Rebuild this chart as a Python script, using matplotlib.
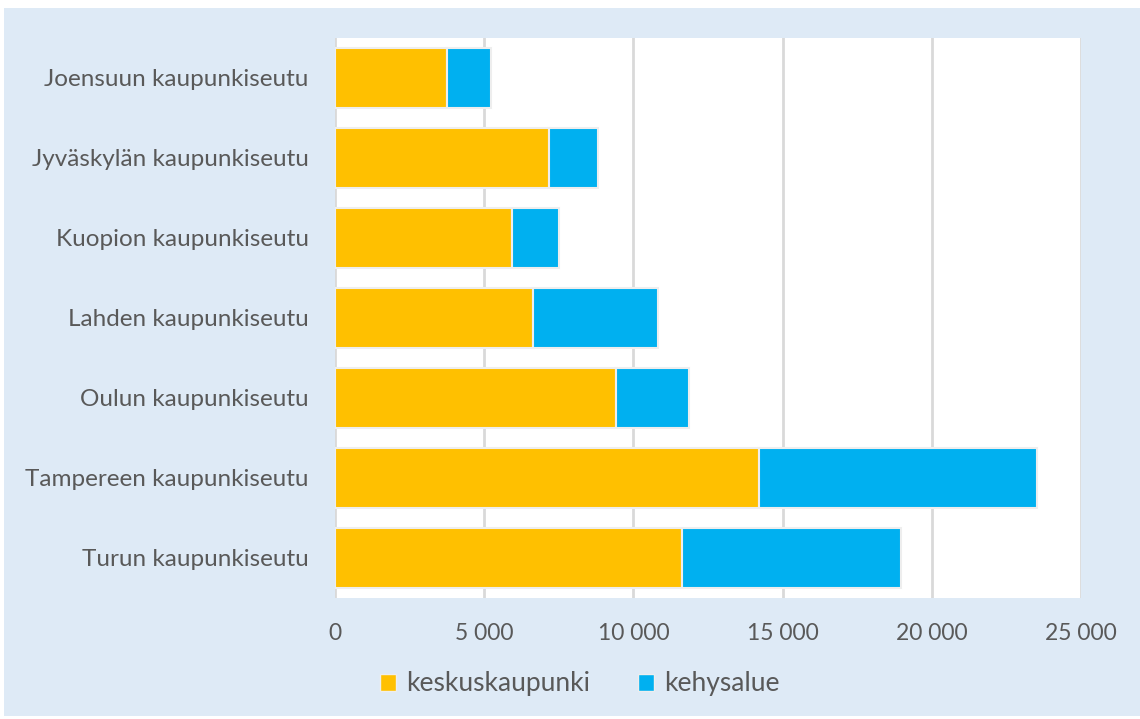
import matplotlib
matplotlib.use("Agg")
import matplotlib.pyplot as plt
from matplotlib.patches import Rectangle, Patch
from matplotlib.ticker import FuncFormatter

# Data
regions = [
    "Joensuun kaupunkiseutu",
    "Jyväskylän kaupunkiseutu",
    "Kuopion kaupunkiseutu",
    "Lahden kaupunkiseutu",
    "Oulun kaupunkiseutu",
    "Tampereen kaupunkiseutu",
    "Turun kaupunkiseutu",
]
keskuskaupunki = [3770, 7180, 5930, 6650, 9430, 14220, 11640]
kehysalue = [1460, 1630, 1560, 4160, 2450, 9320, 7330]
series_names = ["keskuskaupunki", "kehysalue"]

YELLOW = "#FFC000"
BLUE = "#00B0F0"
TEXT = "#595959"
GRID = "#D9D9D9"
PANEL = "#DEEAF6"

plt.rcParams["font.family"] = ["Lato", "DejaVu Sans"]

fig = plt.figure(figsize=(11.4, 7.19), dpi=100, facecolor="white")
fig.patches.append(Rectangle((4 / 1140, 3 / 719), 1136 / 1140, 708 / 719,
                             transform=fig.transFigure, facecolor=PANEL,
                             edgecolor="none", zorder=-10))

ax = fig.add_axes([335 / 1140, 1 - 598 / 719, 746 / 1140, 560 / 719])
ax.set_facecolor("white")

ypos = list(range(len(regions)))
ax.barh(ypos, keskuskaupunki, height=0.76, color=YELLOW,
        edgecolor="#EEEEEE", linewidth=1.5, zorder=3)
ax.barh(ypos, kehysalue, left=keskuskaupunki, height=0.76, color=BLUE,
        edgecolor="#EEEEEE", linewidth=1.5, zorder=3)

ax.set_xlim(0, 25000)
ax.set_ylim(len(regions) - 0.5, -0.5)
ax.set_xticks(range(0, 25001, 5000))
ax.xaxis.set_major_formatter(FuncFormatter(lambda v, p: f"{int(v):,}".replace(",", " ")))
ax.set_yticks(ypos)
ax.set_yticklabels(regions)
ax.grid(axis="x", color=GRID, linewidth=2, zorder=0)
ax.tick_params(axis="both", length=0, colors=TEXT)
ax.tick_params(axis="x", pad=18, labelsize=16.5)
ax.tick_params(axis="y", pad=19, labelsize=17.5)
for s in ax.spines.values():
    s.set_visible(False)

handles = [Patch(facecolor=YELLOW, edgecolor="#EEEEEE"),
           Patch(facecolor=BLUE, edgecolor="#EEEEEE")]
leg = fig.legend(handles, series_names, loc="center",
                 bbox_to_anchor=(580 / 1140, 1 - 684 / 719), ncol=2,
                 frameon=False, fontsize=19, handlelength=0.6, handleheight=0.6,
                 handletextpad=0.4, columnspacing=1.8)
for t in leg.get_texts():
    t.set_color(TEXT)

fig.savefig("out.png", dpi=100, facecolor="white")
